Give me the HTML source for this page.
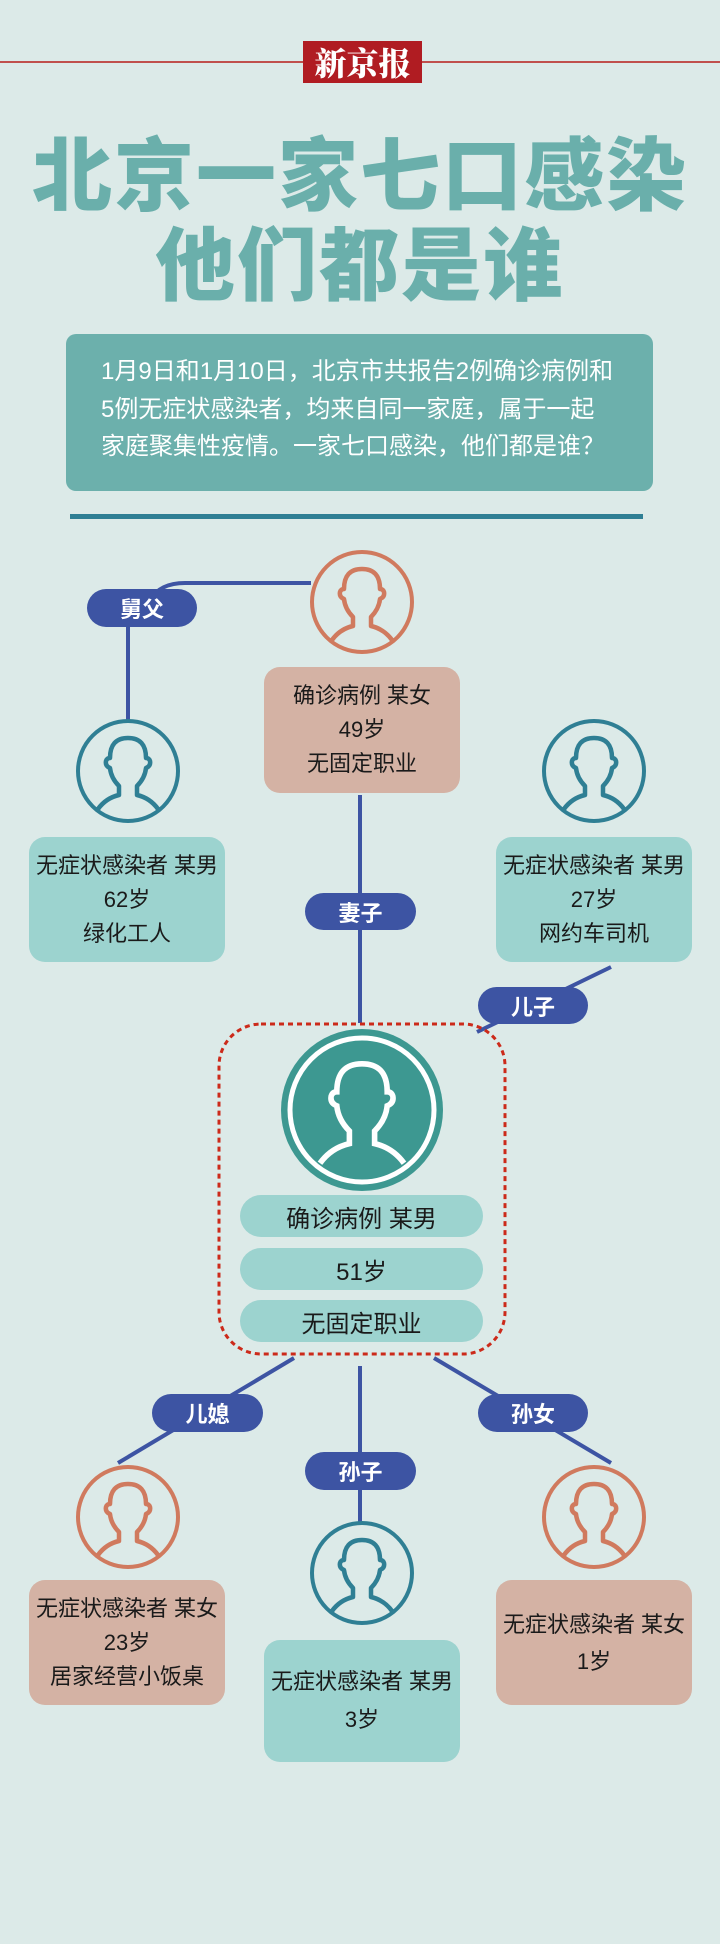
<!DOCTYPE html>
<html><head><meta charset="utf-8"><style>
*{margin:0;padding:0;box-sizing:border-box}
body{width:720px;height:1944px;background:#dceae8;position:relative;overflow:hidden;font-family:"Liberation Sans","Noto Sans CJK SC",sans-serif}
.a{position:absolute}
.t{position:absolute;text-align:center;color:#1a1a1a;font-size:22px;line-height:34px;display:flex;flex-direction:column;justify-content:center;border-radius:16px}
.pill{position:absolute;background:#3d54a3;color:#fff;font-weight:bold;font-size:22px;border-radius:20px;display:flex;align-items:center;justify-content:center}
.cp{position:absolute;left:240px;width:243px;height:42px;border-radius:21px;background:#9cd3cf;font-size:24px;display:flex;align-items:center;justify-content:center;color:#1a1a1a}
.ti{position:absolute;left:0;width:720px;text-align:center;color:#6aafab;font-family:'Noto Sans CJK SC',sans-serif;font-weight:900;font-size:80px;line-height:100px;white-space:nowrap;letter-spacing:2px}
</style></head><body>
<div class="a" style="left:0;top:61px;width:720px;height:2px;background:#c0504d"></div>
<div class="a" style="left:303px;top:41px;width:119px;height:42px;background:#b01c22;color:#fff;font-family:'Noto Serif CJK SC',serif;font-weight:900;font-size:32px;line-height:42px;text-align:center">新京报</div>
<div class="ti" style="top:120px">北京一家七口感染</div>
<div class="ti" style="top:210px">他们都是谁</div>
<div class="a" style="left:66px;top:334px;width:587px;height:157px;background:#6cb0ac;border-radius:10px;color:#fff;font-size:24px;line-height:37.5px;padding:19px 0 0 35px;white-space:nowrap">1月9日和1月10日，北京市共报告2例确诊病例和<br>5例无症状感染者，均来自同一家庭，属于一起<br>家庭聚集性疫情。一家七口感染，他们都是谁？</div>
<div class="a" style="left:70px;top:514px;width:573px;height:5px;background:#2f7f94"></div>

<svg class="a" style="left:0;top:0" width="720" height="1944">
<defs>
<path id="p" d="M20 88 Q28 77 41 74 L41 65 Q33 57 32 47 Q27 45 28 40 Q29 37 32 37 Q32 17 50 17 Q68 17 68 37 Q71 37 72 40 Q73 45 68 47 Q67 57 59 65 L59 74 Q72 77 80 88" fill="none"/>
</defs>
<g stroke="#3d54a3" stroke-width="4" fill="none">
<path d="M311 583 L185 583 Q160 583 150 600"/>
<line x1="128" y1="620" x2="128" y2="722"/>
<line x1="360" y1="795" x2="360" y2="1023"/>
<line x1="611" y1="967" x2="477" y2="1032"/>
<line x1="294" y1="1358" x2="118" y2="1463"/>
<line x1="360" y1="1366" x2="360" y2="1523"/>
<line x1="434" y1="1358" x2="611" y2="1463"/>
</g>
<rect x="219" y="1024" width="286" height="330" rx="42" fill="none" stroke="#cc2a1a" stroke-width="3" stroke-dasharray="5 4"/>
<g fill="none" stroke-width="4">
<circle cx="362" cy="602" r="50" stroke="#d07a5e"/>
<circle cx="128" cy="771" r="50" stroke="#2f7f94"/>
<circle cx="594" cy="771" r="50" stroke="#2f7f94"/>
<circle cx="128" cy="1517" r="50" stroke="#d07a5e"/>
<circle cx="362" cy="1573" r="50" stroke="#2f7f94"/>
<circle cx="594" cy="1517" r="50" stroke="#d07a5e"/>
</g>
<g stroke-width="4.5" stroke-linejoin="round">
<use href="#p" transform="translate(312,552)" stroke="#d07a5e"/>
<use href="#p" transform="translate(78,721)" stroke="#2f7f94"/>
<use href="#p" transform="translate(544,721)" stroke="#2f7f94"/>
<use href="#p" transform="translate(78,1467)" stroke="#d07a5e"/>
<use href="#p" transform="translate(312,1523)" stroke="#2f7f94"/>
<use href="#p" transform="translate(544,1467)" stroke="#d07a5e"/>
</g>
<circle cx="362" cy="1110" r="81" fill="#3d9891"/>
<circle cx="362" cy="1110" r="72" fill="none" stroke="#fff" stroke-width="5"/>
<use href="#p" transform="translate(292,1040) scale(1.4)" stroke="#fff" stroke-width="4"/>
</svg>

<div class="pill" style="left:87px;top:589px;width:110px;height:38px">舅父</div>
<div class="pill" style="left:305px;top:893px;width:111px;height:37px">妻子</div>
<div class="pill" style="left:478px;top:987px;width:110px;height:37px">儿子</div>
<div class="pill" style="left:152px;top:1394px;width:111px;height:38px">儿媳</div>
<div class="pill" style="left:305px;top:1452px;width:111px;height:38px">孙子</div>
<div class="pill" style="left:478px;top:1394px;width:110px;height:38px">孙女</div>

<div class="t" style="left:264px;top:667px;width:196px;height:126px;background:#d4b2a4">确诊病例 某女<br>49岁<br>无固定职业</div>
<div class="t" style="left:29px;top:837px;width:196px;height:125px;background:#9cd3cf">无症状感染者 某男<br>62岁<br>绿化工人</div>
<div class="t" style="left:496px;top:837px;width:196px;height:125px;background:#9cd3cf">无症状感染者 某男<br>27岁<br>网约车司机</div>
<div class="cp" style="top:1195px">确诊病例 某男</div>
<div class="cp" style="top:1248px">51岁</div>
<div class="cp" style="top:1300px">无固定职业</div>
<div class="t" style="left:29px;top:1580px;width:196px;height:125px;background:#d4b2a4">无症状感染者 某女<br>23岁<br>居家经营小饭桌</div>
<div class="t" style="left:496px;top:1580px;width:196px;height:125px;background:#d4b2a4;line-height:37px">无症状感染者 某女<br>1岁</div>
<div class="t" style="left:264px;top:1640px;width:196px;height:122px;background:#9cd3cf;line-height:38px">无症状感染者 某男<br>3岁</div>
</body></html>
